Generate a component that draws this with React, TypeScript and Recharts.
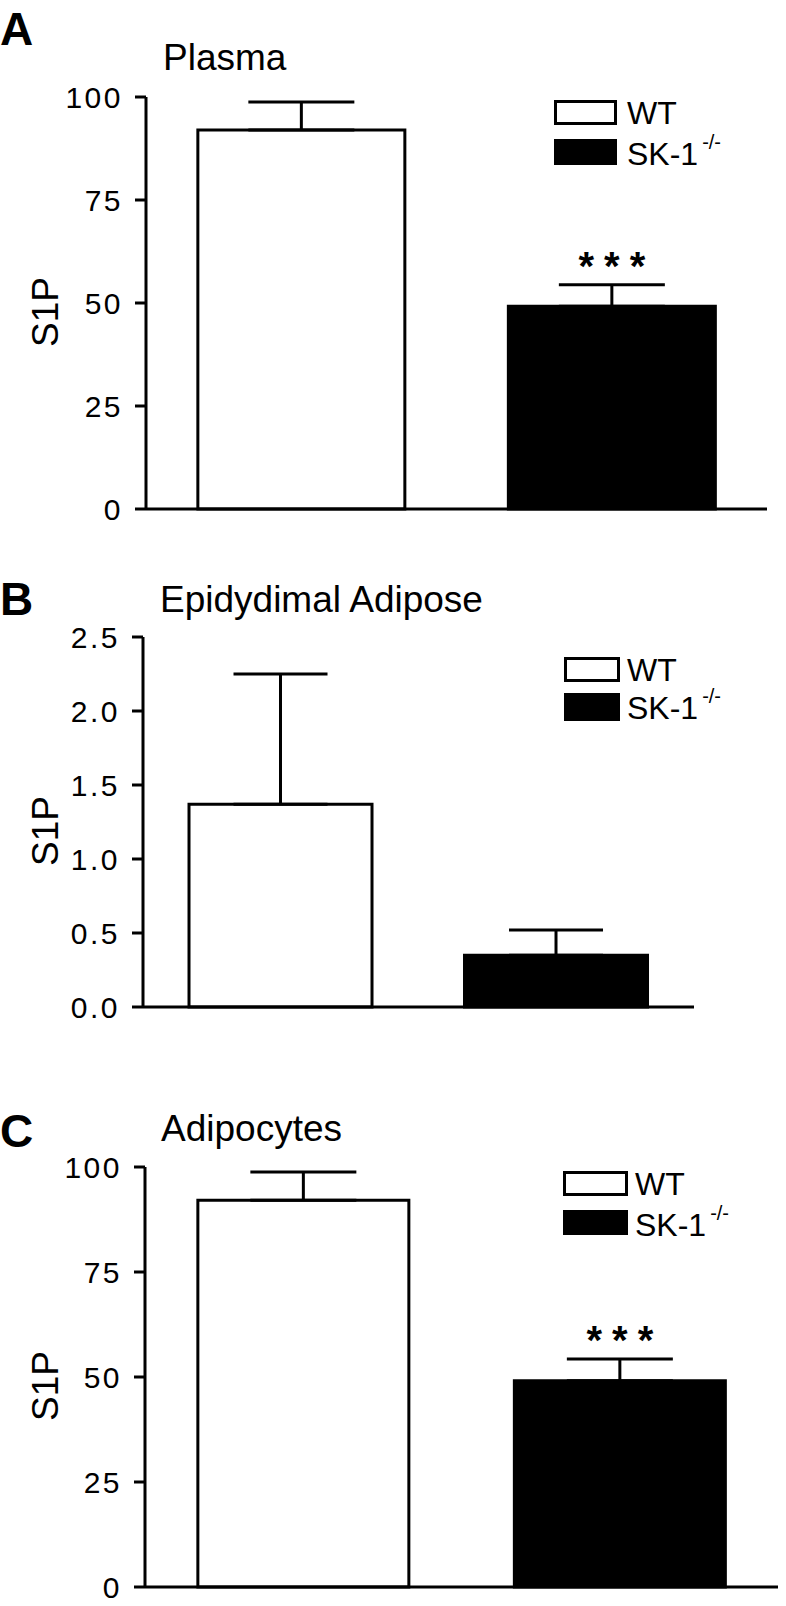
import React from 'react';
import { BarChart, Bar, XAxis, YAxis, ErrorBar, Cell, LabelList, Legend, Label } from 'recharts';

const FONT = '"Liberation Sans", Arial, Helvetica, sans-serif';

// groups shown in every panel
const groups = ['WT', 'SK-1'];
const groupFills = ['#ffffff', '#000000'];

// A - plasma
const plasmaMean = [92.0, 49.2];
const plasmaSem = [6.8, 5.2];
const plasmaSig = ['', '***'];

// B - epididymal adipose
const adiposeMean = [1.37, 0.35];
const adiposeSem = [0.88, 0.17];
const adiposeSig = ['', ''];

// C - adipocytes
const adipocyteMean = [92.1, 49.1];
const adipocyteSem = [6.7, 5.2];
const adipocyteSig = ['', '***'];

const pctTicks = [0, 25, 50, 75, 100];
const adiposeTicks = [0, 0.5, 1.0, 1.5, 2.0, 2.5];

const buildRows = (mean: number[], sem: number[], sig: string[]) =>
  groups.map((g, i) => ({ group: g, value: mean[i], err: [0, sem[i]], sig: sig[i] }));

interface LegendCfg {
  left: number;
  top: number;
  boxW: number;
  textX: number;
  skY: number;
  skH: number;
}

interface PanelProps {
  top: number;
  height: number;
  yWidth: number;
  marginRight: number;
  marginBottom: number;
  mean: number[];
  sem: number[];
  sig: string[];
  ticks: number[];
  decimals: number;
  capHalf: number;
  legend: LegendCfg;
}

const LegendBox = ({ cfg }: { cfg: LegendCfg }) => (
  <svg width={190} height={80} style={{ overflow: 'visible' }}>
    <rect x={1.5} y={1.5} width={cfg.boxW - 3} height={22} fill="#fff" stroke="#000" strokeWidth={3} />
    <text x={cfg.textX} y={24} fontSize={32} fontFamily={FONT} fill="#000">{groups[0]}</text>
    <rect x={0} y={cfg.skY} width={cfg.boxW} height={cfg.skH} fill="#000" />
    <text x={cfg.textX} y={cfg.skY + 26} fontSize={32} fontFamily={FONT} fill="#000">
      {groups[1]}
      <tspan dx={4} dy={-16} fontSize={20}>-/-</tspan>
    </text>
  </svg>
);

const Panel = (p: PanelProps) => {
  const rows = buildRows(p.mean, p.sem, p.sig);

  const stars = (props: any) => {
    const vb = props.viewBox ?? props;
    const { x, y, width, height } = vb;
    const value = props.value;
    if (!value) return null;
    const idx = typeof props.index === 'number' ? props.index : p.sig.indexOf(value);
    const capY = y - (p.sem[idx] / p.mean[idx]) * height;
    return (
      <text x={x + width / 2 + 5} y={capY - 5} textAnchor="middle" fontSize={40} fontFamily={FONT}
        fontWeight="bold" letterSpacing={10} fill="#000">
        {value}
      </text>
    );
  };

  const yLabel = (props: any) => {
    const vb = props.viewBox;
    const cy = vb.y + vb.height / 2 + 9;
    return (
      <text x={58} y={cy} transform={`rotate(-90, 58, ${cy})`} textAnchor="middle" fontSize={37}
        fontFamily={FONT} fill="#000">
        S1P
      </text>
    );
  };

  return (
    <div style={{ position: 'absolute', left: 0, top: p.top }}>
      <BarChart
        width={786}
        height={p.height}
        data={rows}
        margin={{ top: 97, right: p.marginRight, bottom: p.marginBottom, left: 0 }}
        barCategoryGap="16.7%"
      >
        <XAxis dataKey="group" tick={false} tickLine={false} height={2}
          axisLine={{ stroke: '#000', strokeWidth: 3 }} />
        <YAxis
          width={p.yWidth}
          domain={[p.ticks[0], p.ticks[p.ticks.length - 1]]}
          ticks={p.ticks}
          interval={0}
          tickSize={11}
          tickMargin={12}
          tickFormatter={(v: number) => v.toFixed(p.decimals)}
          tick={{ fontSize: 30, fill: '#000', fontFamily: FONT, letterSpacing: 2.5 }}
          tickLine={{ stroke: '#000', strokeWidth: 3 }}
          axisLine={{ stroke: '#000', strokeWidth: 3 }}
        >
          <Label content={yLabel} />
        </YAxis>
        <Legend
          layout="horizontal"
          verticalAlign="middle"
          align="center"
          wrapperStyle={{ position: 'absolute', left: p.legend.left, top: p.legend.top, width: 190 }}
          content={() => <LegendBox cfg={p.legend} />}
        />
        <Bar dataKey="value" isAnimationActive={false} stroke="#000" strokeWidth={3}>
          {rows.map((r, i) => (
            <Cell key={r.group} fill={groupFills[i]} stroke="#000" />
          ))}
          <ErrorBar dataKey="err" direction="y" width={p.capHalf} stroke="#000" strokeWidth={3}
            isAnimationActive={false} />
          <LabelList dataKey="sig" content={stars} />
        </Bar>
      </BarChart>
    </div>
  );
};

const headings = [
  { letter: 'A', title: 'Plasma', letterY: 45, titleX: 163, titleY: 70 },
  { letter: 'B', title: 'Epidydimal Adipose', letterY: 615, titleX: 160, titleY: 612 },
  { letter: 'C', title: 'Adipocytes', letterY: 1147, titleX: 161, titleY: 1141 },
];

export default function App() {
  return (
    <div style={{ position: 'absolute', left: 0, top: 0, width: 786, height: 1606, background: '#fff' }}>
      <Panel top={0} height={530} yWidth={146} marginRight={19} marginBottom={19}
        mean={plasmaMean} sem={plasmaSem} sig={plasmaSig} ticks={pctTicks} decimals={0} capHalf={53}
        legend={{ left: 554, top: 100, boxW: 63, textX: 73, skY: 39, skH: 26 }} />
      <Panel top={540} height={490} yWidth={143} marginRight={92} marginBottom={21}
        mean={adiposeMean} sem={adiposeSem} sig={adiposeSig} ticks={adiposeTicks} decimals={1} capHalf={47}
        legend={{ left: 564, top: 117, boxW: 56, textX: 63, skY: 36, skH: 28 }} />
      <Panel top={1070} height={536} yWidth={145} marginRight={8} marginBottom={17}
        mean={adipocyteMean} sem={adipocyteSem} sig={adipocyteSig} ticks={pctTicks} decimals={0} capHalf={53}
        legend={{ left: 563, top: 101, boxW: 65, textX: 72, skY: 39, skH: 25 }} />
      <svg width={786} height={1606} style={{ position: 'absolute', left: 0, top: 0, pointerEvents: 'none' }}>
        {headings.map(h => (
          <g key={h.letter}>
            <text x={0} y={h.letterY} fontSize={46} fontWeight="bold" fontFamily={FONT} fill="#000">{h.letter}</text>
            <text x={h.titleX} y={h.titleY} fontSize={37} fontFamily={FONT} fill="#000">{h.title}</text>
          </g>
        ))}
      </svg>
    </div>
  );
}
